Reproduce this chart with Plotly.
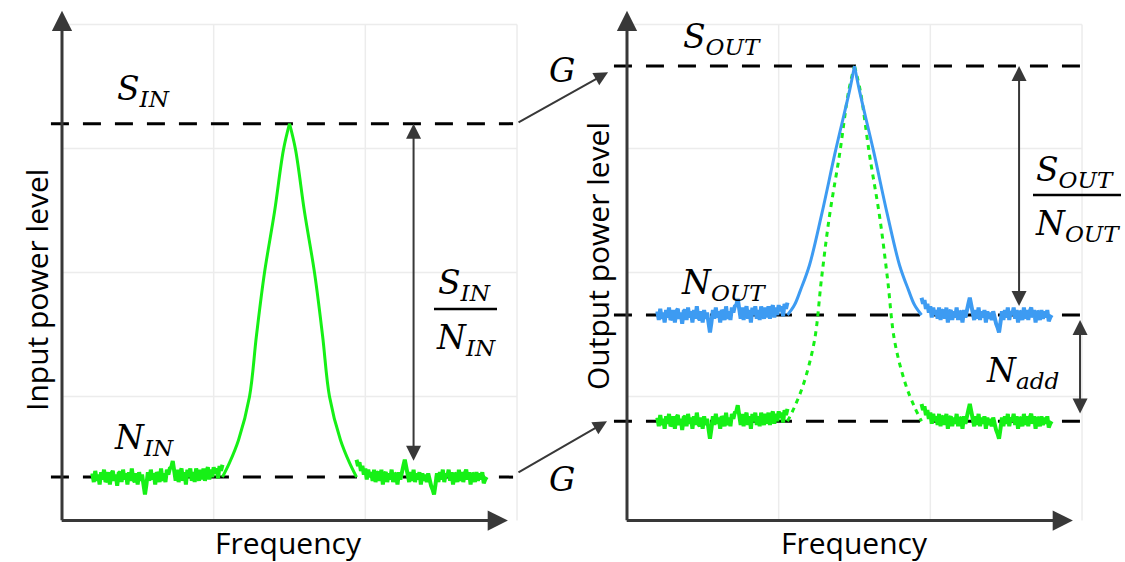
import numpy as np
import plotly.graph_objects as go

# ---------------- data ----------------
grid_cols = [1, 2, 3]            # vertical grid lines (frequency units)
grid_rows = [1, 2, 3, 4]         # horizontal grid lines (power units)
grid_top = 4
grid_right = 3

peak_center = 1.5
input_signal_level = 3.20
input_noise_level = 0.35
output_signal_level = 3.665
output_noise_level = 1.657
amplified_input_noise_level = 0.80

# peak flank: offset from the peak centre vs. fraction of the peak height
green_flank_offset = [0.0, 0.04, 0.099, 0.165, 0.218, 0.264, 0.336, 0.396, 0.442]
green_flank_fraction = [1.0, 0.926, 0.75, 0.578, 0.40, 0.227, 0.105, 0.04, 0.0]
blue_flank_offset = [0.0, 0.033, 0.125, 0.218, 0.297, 0.356, 0.396, 0.442]
blue_flank_fraction = [1.0, 0.90, 0.66, 0.40, 0.20, 0.10, 0.04, 0.0]

# noise ripple (power units) on the two flat bands
noise_low_band = [
    0.03, -0.04, 0.05, -0.03, 0.02, -0.06, 0.04, -0.02, 0.06, -0.04,
    -0.02, 0.04, -0.06, 0.03, 0.05, -0.03, 0.02, -0.07, 0.03, 0.04,
    -0.04, 0.06, -0.02, 0.03, -0.06, 0.04, -0.03, 0.07, -0.02, -0.04,
    0.03, -0.06, 0.04, -0.03, 0.02, -0.07, -0.14, -0.06, 0.04, -0.03,
    0.06, -0.02, 0.03, -0.06, 0.04, 0.02, -0.04, 0.07, -0.03, 0.03,
    -0.04, 0.06, 0.02, 0.07, 0.08, 0.13, 0.04, -0.03, 0.06, -0.04,
    0.03, 0.07, -0.03, 0.04, -0.06, 0.06, 0.00, 0.07, -0.03, 0.04,
    -0.04, 0.07, 0.02, -0.03, 0.06, -0.02, 0.07, -0.03, 0.04, 0.08,
    -0.02, 0.06, 0.00, 0.08, 0.03, 0.07, -0.01, 0.09, 0.05, 0.10]
noise_high_band = [
    0.14, 0.09, 0.12, 0.05, 0.09, 0.02, 0.07, -0.02, 0.06, 0.00,
    0.04, -0.03, 0.06, -0.04, 0.03, 0.04, -0.03, 0.06, -0.06, 0.02,
    0.04, -0.04, 0.03, -0.02, 0.06, -0.04, 0.03, 0.02, -0.06, 0.04,
    -0.02, 0.06, 0.09, 0.14, 0.07, 0.02, -0.04, 0.04, -0.03, 0.06,
    -0.04, 0.03, -0.02, 0.04, -0.06, 0.03, -0.03, 0.02, -0.04, 0.03,
    -0.03, -0.07, -0.10, -0.14, -0.06, 0.03, -0.04, 0.04, -0.02, 0.06,
    -0.04, 0.03, 0.00, 0.06, -0.03, 0.04, -0.06, 0.03, 0.02, -0.04,
    0.06, -0.03, 0.04, -0.04, 0.03, 0.06, -0.02, 0.04, -0.06, 0.03,
    0.02, -0.04, 0.04, -0.03, 0.03, -0.02, 0.04, -0.05, -0.02, 0.00]
noise_low_span = (0.20, 1.058)
noise_high_span = (1.942, 2.80)

# ---------------- styling ----------------
W, H = 1125, 562
GREEN = "#16f016"
BLUE = "#3d9bf2"
AXIS = "#383838"
GRID = "#ececec"
MATH_FONT = dict(family="DejaVu Serif", size=33, color="black")
SANS_FONT = dict(family="Open Sans", size=30, color="black")

fig = go.Figure()


def px(x):
    return x / W


def py(y):
    return 1 - y / H


def flanks(floor, peak, offsets, fractions):
    off = np.array(offsets)
    lev = floor + np.array(fractions) * (peak - floor)
    left = (peak_center - off[::-1], lev[::-1])
    right = (peak_center + off, lev)
    return left, right


def add_line(x, y, color, width, xa, ya, dash=None, shape="linear"):
    fig.add_trace(go.Scatter(
        x=list(x), y=list(y), mode="lines", xaxis=xa, yaxis=ya,
        line=dict(color=color, width=width, dash=dash, shape=shape, smoothing=1.0),
        hoverinfo="skip", showlegend=False))


def add_spectrum(floor, peak, offsets, fractions, color, xa, ya, flank_dash=None, width=3):
    xl = np.linspace(*noise_low_span, len(noise_low_band))
    add_line(xl, floor + np.array(noise_low_band), color, 4, xa, ya)
    xh = np.linspace(*noise_high_span, len(noise_high_band))
    add_line(xh, floor + np.array(noise_high_band), color, 4, xa, ya)
    (lx, ly), (rx, ry) = flanks(floor, peak, offsets, fractions)
    add_line(lx, ly, color, width, xa, ya, dash=flank_dash, shape="spline")
    add_line(rx, ry, color, width, xa, ya, dash=flank_dash, shape="spline")


DASH = "18px,14px"
# ----- left panel (input) -----
for lvl in (input_signal_level, input_noise_level):
    add_line([-0.073, 2.974], [lvl, lvl], "black", 3, "x", "y", dash=DASH)
add_spectrum(input_noise_level, input_signal_level, green_flank_offset,
             green_flank_fraction, GREEN, "x", "y")

# ----- right panel (output) -----
for lvl in (output_signal_level, output_noise_level, amplified_input_noise_level):
    add_line([-0.086, 3.066], [lvl, lvl], "black", 3, "x2", "y2", dash=DASH)
add_spectrum(amplified_input_noise_level, output_signal_level, green_flank_offset,
             green_flank_fraction, GREEN, "x2", "y2", flank_dash="5px,5px")
add_spectrum(output_noise_level, output_signal_level, blue_flank_offset,
             blue_flank_fraction, BLUE, "x2", "y2")

shapes = []
for xr, yr in (("x", "y"), ("x2", "y2")):
    for c in grid_cols:
        shapes.append(dict(type="line", xref=xr, yref=yr, x0=c, x1=c, y0=0, y1=grid_top,
                           line=dict(color=GRID, width=1.5), layer="below"))
    for r in grid_rows:
        shapes.append(dict(type="line", xref=xr, yref=yr, x0=0, x1=grid_right, y0=r, y1=r,
                           line=dict(color=GRID, width=1.5), layer="below"))
# fraction bars
shapes.append(dict(type="line", xref="paper", yref="paper", x0=px(434), x1=px(497),
                   y0=py(309), y1=py(309), line=dict(color="black", width=2.5)))
shapes.append(dict(type="line", xref="paper", yref="paper", x0=px(1033), x1=px(1121),
                   y0=py(195), y1=py(195), line=dict(color="black", width=2.5)))

ann = []


def arrow(xr, yr, x, y, ax, ay, width, size, color=AXIS, both=False, data_tail=True):
    d = dict(xref=xr, yref=yr, x=x, y=y, ax=ax, ay=ay, text="", showarrow=True,
             arrowhead=2, arrowsize=size, arrowwidth=width, arrowcolor=color, standoff=0)
    if data_tail:
        d.update(axref=xr, ayref=yr)
    if both:
        d.update(arrowside="end+start", startarrowhead=2, startarrowsize=size, startstandoff=0)
    ann.append(d)


# axes with arrow heads
for xr, yr in (("x", "y"), ("x2", "y2")):
    arrow(xr, yr, 0, 4.11, 0, -0.01, 3, 1.35)
    arrow(xr, yr, 2.94, 0, -0.012, 0, 3, 1.35)

# S/N double arrows
arrow("x", "y", 2.318, input_signal_level, 2.318, input_noise_level + 0.12, 2, 1.5, both=True)
arrow("x2", "y2", 2.585, output_signal_level, 2.585, output_noise_level + 0.06, 2, 1.5, both=True)
arrow("x2", "y2", 2.987, output_noise_level - 0.04, 2.987, amplified_input_noise_level + 0.05,
      2, 1.5, both=True)
# gain arrows (tails on the input levels)
arrow("x2", "y2", -0.125, output_signal_level - 0.05, -91, 51, 2, 1.4, data_tail=False)
arrow("x2", "y2", -0.132, amplified_input_noise_level, -90, 52, 2, 1.4, data_tail=False)


def text(x, y, t, font, angle=0):
    ann.append(dict(xref="paper", yref="paper", x=px(x), y=py(y), text=t, showarrow=False,
                    font=font, textangle=angle, xanchor="center", yanchor="middle",
                    borderpad=0))


text(143, 90, "<i>S</i><sub><i>IN</i></sub>", MATH_FONT)
text(144, 439, "<i>N</i><sub><i>IN</i></sub>", MATH_FONT)
text(464, 284, "<i>S</i><sub><i>IN</i></sub>", MATH_FONT)
text(466, 339, "<i>N</i><sub><i>IN</i></sub>", MATH_FONT)
text(722, 39, "<i>S</i><sub><i>OUT</i></sub>", MATH_FONT)
text(723, 284, "<i>N</i><sub><i>OUT</i></sub>", MATH_FONT)
text(1075, 171, "<i>S</i><sub><i>OUT</i></sub>", MATH_FONT)
text(1077, 226, "<i>N</i><sub><i>OUT</i></sub>", MATH_FONT)
text(1022, 372, "<i>N</i><sub><i>add</i></sub>", MATH_FONT)
text(562, 71, "<i>G</i>", MATH_FONT)
text(562, 479, "<i>G</i>", MATH_FONT)
text(36, 290, "Input power level", SANS_FONT, angle=-90)
text(597, 256, "Output power level", SANS_FONT, angle=-90)
text(288, 542, "Frequency", SANS_FONT)
text(854, 542, "Frequency", SANS_FONT)

SX = 151.67
SY = 124.0
yr = [(520.5 - H) / SY, 520.5 / SY]
axis_common = dict(visible=False, showgrid=False, zeroline=False, fixedrange=True)
fig.update_layout(
    width=W, height=H, margin=dict(l=0, r=0, t=0, b=0),
    paper_bgcolor="white", plot_bgcolor="white", showlegend=False,
    xaxis=dict(domain=[0, 560 / W], range=[(0 - 62) / SX, (560 - 62) / SX], **axis_common),
    yaxis=dict(domain=[0, 1], range=yr, **axis_common),
    xaxis2=dict(domain=[560 / W, 1], range=[(560 - 627) / SX, (W - 627) / SX],
                anchor="y2", **axis_common),
    yaxis2=dict(domain=[0, 1], range=yr, anchor="x2", **axis_common),
    shapes=shapes, annotations=ann,
)

fig.write_html("out.html", config={"displayModeBar": False},
               post_script="document.body.style.margin='0';document.body.style.overflow='hidden';")
